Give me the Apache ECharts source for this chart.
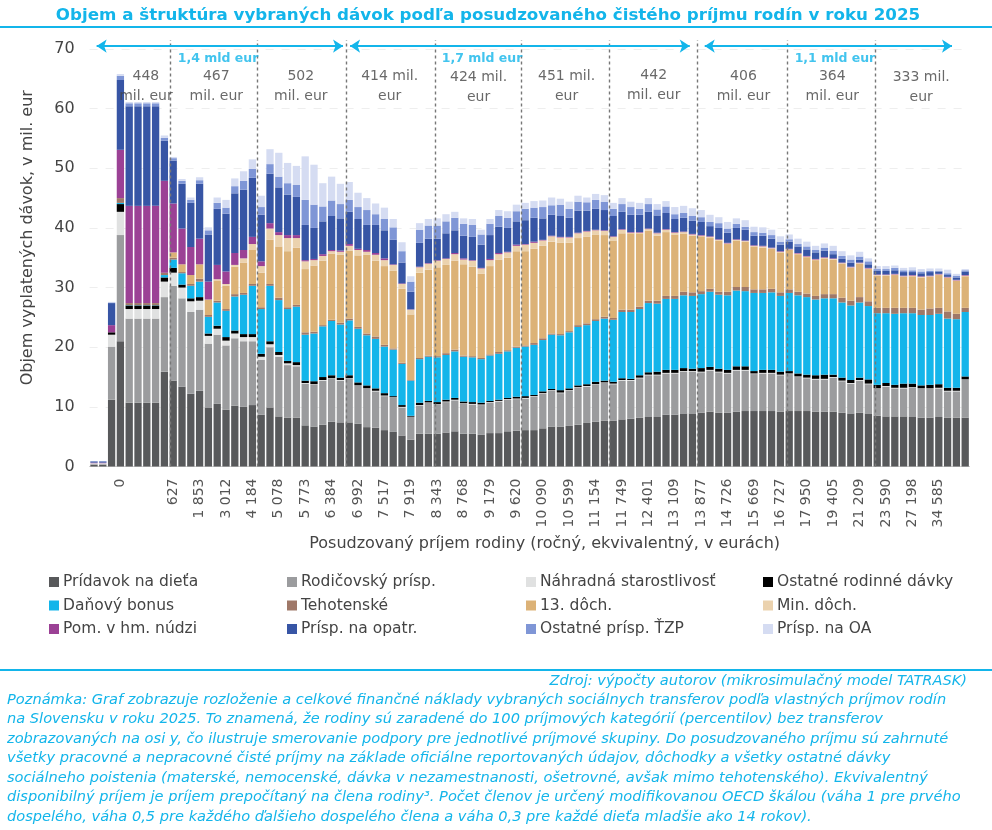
<!DOCTYPE html>
<html>

<head>
  <meta charset="utf-8">
  <title>Objem a štruktúra vybraných dávok</title>
  <script src="https://cdn.jsdelivr.net/npm/echarts@6/dist/echarts.min.js"></script>
  <style>
    html, body { margin: 0; padding: 0; background: #fff; }
  </style>
</head>

<body>
  <div id="main" style="width: 992px;height:830px;"></div>
  <script type="text/javascript">
    // x axis labels, one for every third percentile
    var tickLabels = ['', '0', '', '627', '1 853', '3 012', '4 184', '5 078', '5 773', '6 384', '6 992', '7 517', '7 919',
      '8 343', '8 768', '9 179', '9 620', '10 090', '10 599', '11 154', '11 749', '12 401', '13 109', '13 877', '14 726',
      '15 669', '16 727', '17 950', '19 405', '21 209', '23 590', '27 198', '34 585', ''];

    // top edge of each band in the stack (mil. eur, 100 percentiles)
    var topPridavok = [0.3,0.3,11.2,21.0,10.7,10.7,10.7,10.7,15.9,14.4,
      13.4,12.2,12.7,9.9,10.5,9.5,10.2,10.0,10.3,8.7,
      9.9,8.4,8.2,8.2,6.9,6.7,7.0,7.5,7.4,7.4,
      7.2,6.6,6.5,6.1,5.8,5.2,4.5,5.5,5.5,5.5,
      5.7,5.9,5.5,5.5,5.3,5.6,5.6,5.9,6.0,6.1,
      6.1,6.4,6.7,6.7,6.8,7.0,7.3,7.5,7.7,7.7,
      7.9,8.0,8.2,8.3,8.3,8.7,8.7,8.9,8.9,9.0,
      9.2,9.0,9.0,9.2,9.3,9.3,9.3,9.3,9.2,9.3,
      9.3,9.3,9.2,9.2,9.2,9.0,8.9,9.0,8.9,8.5,
      8.4,8.4,8.4,8.3,8.2,8.2,8.3,8.2,8.2,8.2];
    var topRodicovsky = [0.4,0.4,20.1,38.8,24.8,24.8,24.8,24.8,28.4,30.3,
      28.2,25.9,26.3,20.6,22.1,20.3,21.5,21.0,21.0,17.9,
      20.0,18.4,17.0,16.8,13.9,13.7,14.4,14.7,14.4,14.7,
      13.5,13.0,12.6,11.8,11.5,9.9,8.3,10.2,10.7,10.4,
      10.8,11.1,10.5,10.4,10.3,10.7,10.9,11.2,11.3,11.4,
      11.7,12.2,12.7,12.3,12.7,13.2,13.4,13.7,14.0,13.8,
      14.4,14.4,14.8,15.3,15.3,15.6,15.6,15.9,15.9,15.8,
      16.1,15.8,15.6,16.1,16.1,15.5,15.6,15.6,15.3,15.5,
      15.0,14.8,14.6,14.6,14.9,14.3,13.9,14.4,13.8,13.0,
      13.4,13.1,13.1,13.2,13.0,13.0,13.1,12.6,12.6,14.5];
    var topNahradna = [0.55,0.55,22.1,42.7,26.4,26.4,26.4,26.4,31.0,32.5,
      30.0,27.7,27.8,21.9,23.1,21.1,22.3,21.7,21.7,18.4,
      20.5,18.7,17.3,17.0,14.0,13.8,14.5,14.8,14.5,14.8,
      13.6,13.1,12.7,11.9,11.6,10.0,8.35,10.3,10.75,10.45,
      10.9,11.2,10.6,10.5,10.4,10.8,11.0,11.3,11.4,11.5,
      11.8,12.3,12.8,12.4,12.8,13.3,13.5,13.8,14.1,13.9,
      14.5,14.5,14.9,15.4,15.4,15.7,15.7,16.0,16.0,15.9,
      16.2,15.9,15.7,16.2,16.2,15.6,15.7,15.7,15.4,15.6,
      15.1,14.9,14.7,14.7,15.0,14.4,14.0,14.5,13.9,13.1,
      13.5,13.2,13.2,13.3,13.1,13.1,13.2,12.7,12.7,14.6];
    var topOstatneRod = [0.55,0.55,22.5,44.0,27.0,27.0,27.0,27.0,31.7,33.3,
      30.5,28.2,28.4,22.3,23.6,21.7,22.8,22.2,22.2,18.9,
      21.0,19.2,17.7,17.5,14.4,14.3,15.0,15.3,14.9,15.3,
      14.1,13.6,13.1,12.3,11.8,10.3,8.5,10.7,11.0,10.8,
      11.2,11.5,10.9,10.8,10.7,11.0,11.2,11.5,11.7,11.8,
      12.0,12.6,13.0,12.8,13.1,13.6,13.8,14.2,14.4,14.2,
      14.8,14.7,15.3,15.8,15.9,16.2,16.2,16.5,16.4,16.5,
      16.7,16.4,16.2,16.8,16.8,16.0,16.2,16.2,15.9,16.0,
      15.6,15.4,15.3,15.4,15.4,14.9,14.5,14.9,14.6,13.7,
      14.0,13.7,13.9,13.9,13.6,13.7,13.8,13.2,13.2,15.1];
    var topBonus = [0.55,0.55,22.5,44.2,27.05,27.05,27.05,27.05,32.1,34.7,
      32.4,30.3,31.0,25.1,27.5,26.1,28.5,28.8,30.3,26.4,
      30.3,27.9,26.4,26.8,22.1,22.3,23.5,24.4,23.8,24.5,
      23.1,22.0,21.4,20.1,19.6,17.2,14.4,18.0,18.4,18.3,
      18.7,19.3,18.4,18.3,18.0,18.6,18.9,19.3,19.9,20.1,
      20.4,21.2,22.1,22.0,22.5,23.4,23.7,24.4,24.8,24.6,
      25.9,25.9,26.4,27.4,27.3,28.1,28.1,28.7,28.6,28.9,
      29.3,28.8,28.7,29.5,29.4,29.1,29.1,29.2,28.6,29.1,
      28.7,28.4,28.0,28.2,28.2,27.5,27.0,27.5,26.9,25.7,
      25.7,25.6,25.7,25.7,25.4,25.4,25.6,24.8,24.7,25.9];
    var topTehotenske = [0.55,0.55,22.5,45.0,27.4,27.4,27.4,27.4,32.5,35.0,
      32.6,30.6,31.5,25.4,27.8,26.4,28.9,29.1,30.6,26.7,
      30.6,28.3,26.7,27.1,22.5,22.6,23.7,24.6,24.1,24.8,
      23.4,22.3,21.8,20.4,19.8,17.4,14.5,18.2,18.6,18.5,
      19.0,19.6,18.6,18.5,18.2,18.8,19.2,19.5,20.1,20.3,
      20.7,21.5,22.3,22.2,22.7,23.7,24.0,24.7,25.1,24.9,
      26.3,26.3,26.8,27.8,27.8,28.6,28.6,29.3,29.2,29.4,
      29.8,29.3,29.3,30.1,30.1,29.7,29.7,29.8,29.2,29.7,
      29.3,29.0,28.6,28.9,28.9,28.3,27.8,28.4,27.7,26.6,
      26.6,26.6,26.6,26.6,26.3,26.5,26.6,26.0,25.6,26.6];
    var top13Doch = [0.55,0.55,22.5,45.0,27.4,27.4,27.4,27.4,32.5,35.9,
      33.9,32.1,33.9,28.0,31.2,30.3,33.5,34.2,36.3,32.5,
      38.0,36.9,36.1,36.7,33.1,33.7,34.5,35.7,35.5,36.2,
      35.4,35.5,34.5,33.6,32.8,29.8,25.5,32.5,33.0,33.4,
      33.8,34.5,33.9,33.5,32.3,33.6,34.7,35.0,36.1,36.1,
      36.5,37.0,37.7,37.5,37.5,38.3,38.5,38.9,38.8,37.9,
      39.1,39.1,39.1,39.5,38.7,39.3,38.9,39.0,38.7,38.6,
      38.3,37.9,37.3,37.9,37.7,36.9,36.7,36.5,35.9,36.3,
      35.6,35.1,34.6,34.9,34.7,34.0,33.3,34.0,33.1,32.0,
      32.0,32.1,31.8,31.9,31.7,31.8,32.1,31.6,31.1,31.9];
    var topMinDoch = [0.55,0.55,22.5,45.0,27.4,27.4,27.4,27.4,32.5,35.9,
      33.9,32.1,33.9,28.0,31.4,30.6,33.8,34.9,37.3,33.6,
      39.9,38.8,38.3,38.3,34.4,34.6,35.3,36.1,36.0,37.0,
      36.3,36.0,35.5,34.6,33.8,30.6,26.3,33.4,34.0,34.5,
      34.8,35.6,34.7,34.5,33.2,34.6,35.6,35.9,37.0,37.2,
      37.5,37.9,38.6,38.4,38.4,39.1,39.4,39.6,39.5,38.5,
      39.7,39.2,39.2,39.8,39.1,39.7,39.2,39.3,38.9,38.7,
      38.5,38.0,37.4,38.0,37.8,37.0,36.9,36.6,36.0,36.4,
      35.7,35.2,34.7,35.0,34.8,34.1,33.4,34.1,33.2,32.1,
      32.1,32.2,31.9,32.0,31.8,31.9,32.2,31.7,31.2,32.0];
    var topPomoc = [0.65,0.65,23.7,53.1,43.7,43.7,43.7,43.7,47.9,44.1,
      39.9,36.8,38.2,31.0,33.8,32.7,35.8,36.3,38.5,34.4,
      40.8,39.3,38.8,38.8,34.6,34.8,35.6,36.3,36.2,37.3,
      36.5,36.3,35.8,34.9,33.9,30.7,26.35,33.5,34.1,34.6,
      34.9,35.8,34.9,34.6,33.3,34.8,35.8,36.0,37.2,37.3,
      37.7,38.0,38.7,38.5,38.5,39.2,39.5,39.7,39.6,38.6,
      39.8,39.3,39.3,39.9,39.2,39.8,39.3,39.4,39.0,38.8,
      38.6,38.1,37.5,38.1,37.9,37.1,37.0,36.7,36.1,36.5,
      35.8,35.3,34.8,35.1,34.9,34.2,33.5,34.2,33.3,32.2,
      32.2,32.3,32.0,32.1,31.9,32.0,32.3,31.8,31.3,32.1];
    var topOpatrovanie = [0.85,0.85,27.4,64.8,60.4,60.4,60.4,60.4,54.6,51.3,
      47.4,44.2,47.4,38.9,43.2,42.4,45.8,46.4,48.4,42.2,
      49.1,46.8,45.6,45.2,40.5,40.0,41.1,42.0,41.6,42.7,
      41.5,40.5,40.5,39.6,38.0,34.2,29.3,37.5,38.2,38.2,
      39.1,39.6,38.7,38.5,37.2,38.8,40.2,40.0,41.1,41.3,
      41.7,41.6,42.2,42.0,41.7,42.9,42.9,43.2,43.0,42.0,
      42.7,42.2,42.2,42.7,42.1,42.5,41.5,41.7,41.2,41.0,
      40.3,40.0,39.2,40.0,39.7,38.7,38.7,38.2,37.2,37.7,
      36.9,36.4,35.9,36.2,35.6,34.8,34.2,34.7,33.9,32.8,
      32.8,32.9,32.6,32.6,32.4,32.6,32.7,32.1,31.7,32.7];
    var topOstatneZtp = [0.9,0.9,27.5,65.5,60.9,60.9,60.9,60.9,55.1,51.7,
      47.9,44.7,48.0,39.6,44.2,43.4,47.0,47.9,49.9,43.5,
      50.7,48.6,47.5,47.2,44.7,43.9,43.6,44.6,44.0,44.7,
      43.5,43.0,42.3,41.5,40.1,36.1,31.0,39.7,40.4,40.4,
      41.1,41.7,40.7,40.5,38.9,40.7,42.0,41.7,42.8,43.2,
      43.4,43.5,43.8,43.9,43.2,44.4,44.3,44.7,44.4,43.2,
      44.0,43.5,43.2,44.0,43.1,43.6,42.3,42.5,42.0,41.8,
      41.0,40.8,39.9,40.7,40.2,39.3,39.2,38.8,37.7,38.1,
      37.3,36.9,36.3,36.7,36.2,35.3,34.7,35.2,34.4,33.1,
      33.1,33.3,32.9,32.9,32.7,32.8,32.8,32.4,32.0,32.9];
    var topOa = [0.9,0.9,27.6,65.8,61.1,61.1,61.1,61.1,55.5,51.9,
      48.2,45.1,48.5,40.1,45.1,44.7,48.3,49.5,51.5,45.4,
      53.2,52.6,50.9,50.4,52.0,50.6,47.5,48.6,47.4,47.7,
      45.9,45.0,44.1,43.4,41.5,37.6,31.9,40.8,41.5,41.6,
      42.3,42.7,41.6,41.5,39.7,41.5,43.0,42.8,43.9,44.2,
      44.5,44.6,45.1,44.9,44.4,45.4,45.1,45.7,45.5,44.2,
      45.0,44.4,44.2,45.0,44.0,44.5,43.5,43.7,43.3,43.0,
      42.2,41.8,41.0,41.6,41.3,40.2,40.1,39.7,38.6,38.9,
      38.2,37.7,37.0,37.4,37.0,36.1,35.4,36.0,34.9,33.6,
      33.6,33.7,33.3,33.4,33.1,33.2,33.2,33.0,32.3,33.1];

    var seriesNames = ['Prídavok na dieťa', 'Rodičovský prísp.', 'Náhradná starostlivosť', 'Ostatné rodinné dávky',
      'Daňový bonus', 'Tehotenské', '13. dôch.', 'Min. dôch.',
      'Pom. v hm. núdzi', 'Prísp. na opatr.', 'Ostatné prísp. ŤZP', 'Prísp. na OA'];
    var seriesColors = ['#58595b', '#9b9c9e', '#e0e1e1', '#000000',
      '#13b5ea', '#9f7868', '#dcb277', '#ebd2ae',
      '#9b4195', '#3755a5', '#7f96d6', '#d5dcf2'];
    var bandTops = [topPridavok, topRodicovsky, topNahradna, topOstatneRod, topBonus, topTehotenske,
      top13Doch, topMinDoch, topPomoc, topOpatrovanie, topOstatneZtp, topOa];

    // annotations above the bars
    var blockLabels = ['448\nmil. eur', '467\nmil. eur', '502\nmil. eur', '414 mil.\neur', '424 mil.\neur',
      '451 mil.\neur', '442\nmil. eur', '406\nmil. eur', '364\nmil. eur', '333 mil.\neur'];
    var blockLabelX = [5.9, 13.9, 23.5, 33.6, 43.7, 53.7, 63.6, 73.8, 83.9, 94.0];
    var blockLabelY = [63.8, 63.8, 63.8, 63.8, 63.6, 63.7, 63.9, 63.7, 63.7, 63.5];
    var groupLabels = ['1,4 mld eur', '1,7 mld eur', '1,1 mld eur'];
    var groupLabelX = [14.1, 44.1, 84.2];
    var arrowSpans = [[0.3, 28.3], [29.1, 67.7], [69.4, 97.5]];
    var dividerX = [8.7, 18.5, 28.7, 38.75, 48.5, 58.5, 68.5, 78.75, 88.75];

    var noteLines = [
      'Poznámka: Graf zobrazuje rozloženie a celkové finančné náklady vybraných sociálnych transferov podľa vlastných príjmov rodín',
      'na Slovensku v roku 2025. To znamená, že rodiny sú zaradené do 100 príjmových kategórií (percentilov) bez transferov',
      'zobrazovaných na osi y, čo ilustruje smerovanie podpory pre jednotlivé príjmové skupiny. Do posudzovaného príjmu sú zahrnuté',
      'všetky pracovné a nepracovné čisté príjmy na základe oficiálne reportovaných údajov, dôchodky a všetky ostatné dávky',
      'sociálneho poistenia (materské, nemocenské, dávka v nezamestnanosti, ošetrovné, avšak mimo tehotenského). Ekvivalentný',
      'disponibilný príjem je príjem prepočítaný na člena rodiny³. Počet členov je určený modifikovanou OECD škálou (váha 1 pre prvého',
      'dospelého, váha 0,5 pre každého ďalšieho dospelého člena a váha 0,3 pre každé dieťa mladšie ako 14 rokov).'
    ];

    var FONT = '"DejaVu Sans"';
    var CYAN = '#13b5ea';

    var categories = [];
    for (var i = 0; i < topOa.length; i++) {
      categories.push(i % 3 === 0 ? tickLabels[i / 3] : '');
    }

    // stacked bars need band heights, not band tops
    var series = bandTops.map(function(tops, k) {
      return {
        name: seriesNames[k],
        type: 'bar',
        stack: 'davky',
        barWidth: 7.3,
        itemStyle: { color: seriesColors[k] },
        emphasis: { disabled: true },
        data: tops.map(function(v, i) {
          var below = k === 0 ? 0 : bandTops[k - 1][i];
          return Math.round((v - below) * 100) / 100;
        })
      };
    });

    // dashed dividers, arrows and their texts live on an invisible overlay grid
    series.push({
      type: 'line',
      xAxisIndex: 1,
      yAxisIndex: 1,
      data: [],
      silent: true,
      z: 5,
      markLine: {
        silent: true,
        symbol: 'none',
        animation: false,
        label: { show: false },
        lineStyle: { color: '#777777', type: [3, 3], width: 1.4 },
        data: dividerX.map(function(x) {
          return [{ coord: [x, 0] }, { coord: [x, 71.5] }];
        })
      }
    });
    arrowSpans.forEach(function(span) {
      series.push({
        type: 'line',
        xAxisIndex: 1,
        yAxisIndex: 1,
        data: [],
        silent: true,
        z: 6,
        markLine: {
          silent: true,
          symbol: ['arrow', 'arrow'],
          symbolSize: [10, 10],
          animation: false,
          label: { show: false },
          lineStyle: { color: CYAN, type: 'solid', width: 2 },
          data: [[{ coord: [span[0], 70.5] }, { coord: [span[1], 70.5] }]]
        }
      });
    });
    series.push({
      type: 'scatter',
      xAxisIndex: 1,
      yAxisIndex: 1,
      symbolSize: 0,
      silent: true,
      z: 7,
      label: {
        show: true,
        position: 'inside',
        color: '#444444',
        fontFamily: FONT,
        fontSize: 14,
        lineHeight: 20,
        formatter: function(p) { return blockLabels[p.dataIndex]; }
      },
      data: blockLabelX.map(function(x, i) { return [x, blockLabelY[i]]; })
    });
    series.push({
      type: 'scatter',
      xAxisIndex: 1,
      yAxisIndex: 1,
      symbolSize: 0,
      silent: true,
      z: 7,
      label: {
        show: true,
        position: 'inside',
        color: CYAN,
        fontFamily: FONT,
        fontSize: 12.5,
        fontWeight: 'bold',
        formatter: function(p) { return groupLabels[p.dataIndex]; }
      },
      data: groupLabelX.map(function(x) { return [x, 68.4]; })
    });

    // four legend columns, filled across the rows like the original
    var legendColumns = [0, 1, 2, 3].map(function(c) {
      return {
        orient: 'vertical',
        left: [44, 282, 521, 758][c],
        top: 569,
        itemWidth: 10,
        itemHeight: 10,
        itemGap: 7.5,
        selectedMode: false,
        icon: 'rect',
        textStyle: { fontFamily: FONT, fontSize: 15.5, color: '#444444', padding: [0, 0, 0, -1] },
        data: [seriesNames[c], seriesNames[c + 4], seriesNames[c + 8]]
      };
    });

    var graphicItems = [
      { type: 'line', shape: { x1: 0, y1: 27, x2: 992, y2: 27 }, style: { stroke: CYAN, lineWidth: 2 } },
      { type: 'line', shape: { x1: 0, y1: 670, x2: 992, y2: 670 }, style: { stroke: CYAN, lineWidth: 2 } },
      {
        type: 'text', x: 967, y: 681,
        style: {
          text: 'Zdroj: výpočty autorov (mikrosimulačný model TATRASK)', align: 'right', verticalAlign: 'middle',
          fill: CYAN, font: 'italic 14.6px ' + FONT
        }
      }
    ];
    noteLines.forEach(function(line, i) {
      graphicItems.push({
        type: 'text', x: 7, y: 700 + i * 19.5,
        style: { text: line, verticalAlign: 'middle', fill: CYAN, font: 'italic 14.6px ' + FONT }
      });
    });

    var myChart = echarts.init(document.getElementById('main'), null, { renderer: 'canvas' });
    var option = {
      animation: false,
      backgroundColor: '#ffffff',
      title: {
        text: 'Objem a štruktúra vybraných dávok podľa posudzovaného čistého príjmu rodín v roku 2025',
        left: 483,
        textAlign: 'center',
        top: 2,
        textStyle: { fontFamily: FONT, fontSize: 16.7, fontWeight: 'bold', color: CYAN }
      },
      legend: legendColumns,
      graphic: graphicItems,
      grid: [
        { left: 89.6, width: 880, top: 49, height: 417.5 },
        { left: 89.6, width: 880, top: 37.1, height: 429.4 }
      ],
      xAxis: [{
        type: 'category',
        data: categories,
        gridIndex: 0,
        name: 'Posudzovaný príjem rodiny (ročný, ekvivalentný, v eurách)',
        nameLocation: 'middle',
        nameGap: 63,
        nameTextStyle: { fontFamily: FONT, fontSize: 16, color: '#444444', padding: [0, 0, 0, 30] },
        axisTick: { show: false },
        axisLine: { lineStyle: { color: '#cccccc' } },
        axisLabel: { interval: 2, rotate: 90, margin: 12, fontFamily: FONT, fontSize: 14, color: '#555555' }
      }, {
        type: 'value',
        gridIndex: 1,
        min: -0.5,
        max: 99.5,
        show: false
      }],
      yAxis: [{
        type: 'value',
        gridIndex: 0,
        min: 0,
        max: 70,
        interval: 10,
        name: 'Objem vyplatených dávok, v mil. eur',
        nameLocation: 'middle',
        nameGap: 54,
        nameTextStyle: { fontFamily: FONT, fontSize: 16, color: '#444444', padding: [0, 0, 0, 40] },
        axisLine: { show: false },
        axisTick: { show: false },
        axisLabel: { fontFamily: FONT, fontSize: 16, color: '#444444', margin: 15 },
        splitLine: { lineStyle: { color: '#eeeeee', type: [8, 8] } }
      }, {
        type: 'value',
        gridIndex: 1,
        min: 0,
        max: 72,
        show: false
      }],
      series: series
    };
    myChart.setOption(option);
  </script>
</body>

</html>
